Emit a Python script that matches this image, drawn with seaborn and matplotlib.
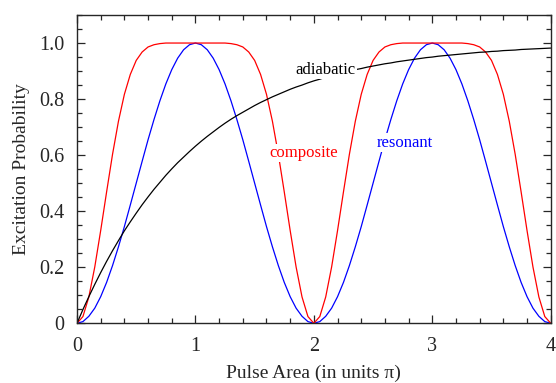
import numpy as np
import pandas as pd
import matplotlib
matplotlib.use("Agg")
import matplotlib.pyplot as plt
from matplotlib.ticker import MultipleLocator, FixedLocator, FixedFormatter
import seaborn as sns

# pulse area (units of pi), sampled every 0.05
pulse_area = np.linspace(0, 4, 81)

# excitation probability
resonant = [
    0, .006, .025, .054, .095, .146, .206, .273, .345, .422, .5, .578, .655, .727, .794, .854, .905, .946, .976, .994, 1.0,
    .994, .976, .946, .905, .854, .794, .727, .655, .578, .5, .422, .345, .273, .206, .146, .095, .054, .025, .006, 0,
    .006, .025, .054, .095, .146, .206, .273, .345, .422, .5, .578, .655, .727, .794, .854, .905, .946, .976, .994, 1.0,
    .994, .976, .946, .905, .854, .794, .727, .655, .578, .5, .422, .345, .273, .206, .146, .095, .054, .025, .006, 0,
]
composite = [
    0, .024, .094, .201, .331, .469, .603, .721, .817, .888, .938, .968, .986, .994, .998, 1.0, 1.0, 1.0, 1.0, 1.0, 1.0,
    1.0, 1.0, 1.0, 1.0, 1.0, .998, .994, .986, .968, .938, .888, .817, .721, .603, .469, .331, .201, .094, .024, 0,
    .024, .094, .201, .331, .469, .603, .721, .817, .888, .938, .968, .986, .994, .998, 1.0, 1.0, 1.0, 1.0, 1.0, 1.0,
    1.0, 1.0, 1.0, 1.0, 1.0, .998, .994, .986, .968, .938, .888, .817, .721, .603, .469, .331, .201, .094, .024, 0,
]
adiabatic = [
    0, .049, .095, .139, .181, .221, .259, .295, .330, .362, .393, .423, .451, .478, .503, .528, .551, .573, .593, .613,
    .632, .650, .667, .683, .699, .714, .728, .741, .753, .765, .777, .788, .798, .808, .817, .826, .835, .843, .850, .858,
    .865, .871, .878, .884, .889, .895, .900, .905, .909, .914, .918, .922, .926, .929, .933, .936, .939, .942, .945, .948,
    .950, .953, .955, .957, .959, .961, .963, .965, .967, .968, .970, .971, .973, .974, .975, .977, .978, .979, .980, .981,
    .982,
]

df = pd.DataFrame({
    "area": np.tile(pulse_area, 3),
    "prob": resonant + composite + adiabatic,
    "pulse": ["resonant"] * 81 + ["composite"] * 81 + ["adiabatic"] * 81,
})
colors = {"resonant": "#0000ff", "composite": "#ff0000", "adiabatic": "#000000"}

sns.set_style("ticks")
plt.rcParams["font.family"] = ["Liberation Serif", "DejaVu Serif"]

fig = plt.figure(figsize=(5.56, 3.83), dpi=100)
ax = fig.add_axes([0.1385, 0.1559, 0.852, 0.8049])

sns.lineplot(data=df, x="area", y="prob", hue="pulse", palette=colors,
             legend=False, linewidth=0.9, ax=ax, sort=False, estimator=None)

ax.set_xlim(0, 4)
ax.set_ylim(0, 1.1)
ax.xaxis.set_major_locator(MultipleLocator(1))
ax.xaxis.set_minor_locator(MultipleLocator(0.2))
ax.yaxis.set_major_locator(FixedLocator([0, 0.2, 0.4, 0.6, 0.8, 1.0]))
ax.yaxis.set_major_formatter(FixedFormatter(["0", "0.2", "0.4", "0.6", "0.8", "1.0"]))
ax.yaxis.set_minor_locator(MultipleLocator(0.05))
ax.tick_params(which="both", direction="in", top=True, right=True, width=0.9, labelsize=14.5)
ax.tick_params(which="major", length=6)
ax.tick_params(which="minor", length=3.5)
ax.tick_params(axis="x", which="major", pad=10)
ax.tick_params(axis="y", which="major", pad=9)
for s in ax.spines.values():
    s.set_linewidth(1.0)

ax.set_xlabel("Pulse Area (in units π)", fontsize=14, labelpad=6)
ax.set_ylabel("Excitation Probability", fontsize=14, labelpad=7)

box = dict(facecolor="white", edgecolor="none", pad=1)
ax.text(2.096, 0.905, "adiabatic", color="black", fontsize=12, ha="center", va="center", bbox=box)
ax.text(1.915, 0.608, "composite", color="red", fontsize=12, ha="center", va="center", bbox=box)
ax.text(2.772, 0.644, "resonant", color="blue", fontsize=12, ha="center", va="center", bbox=box)

fig.savefig("out.png", dpi=100)
